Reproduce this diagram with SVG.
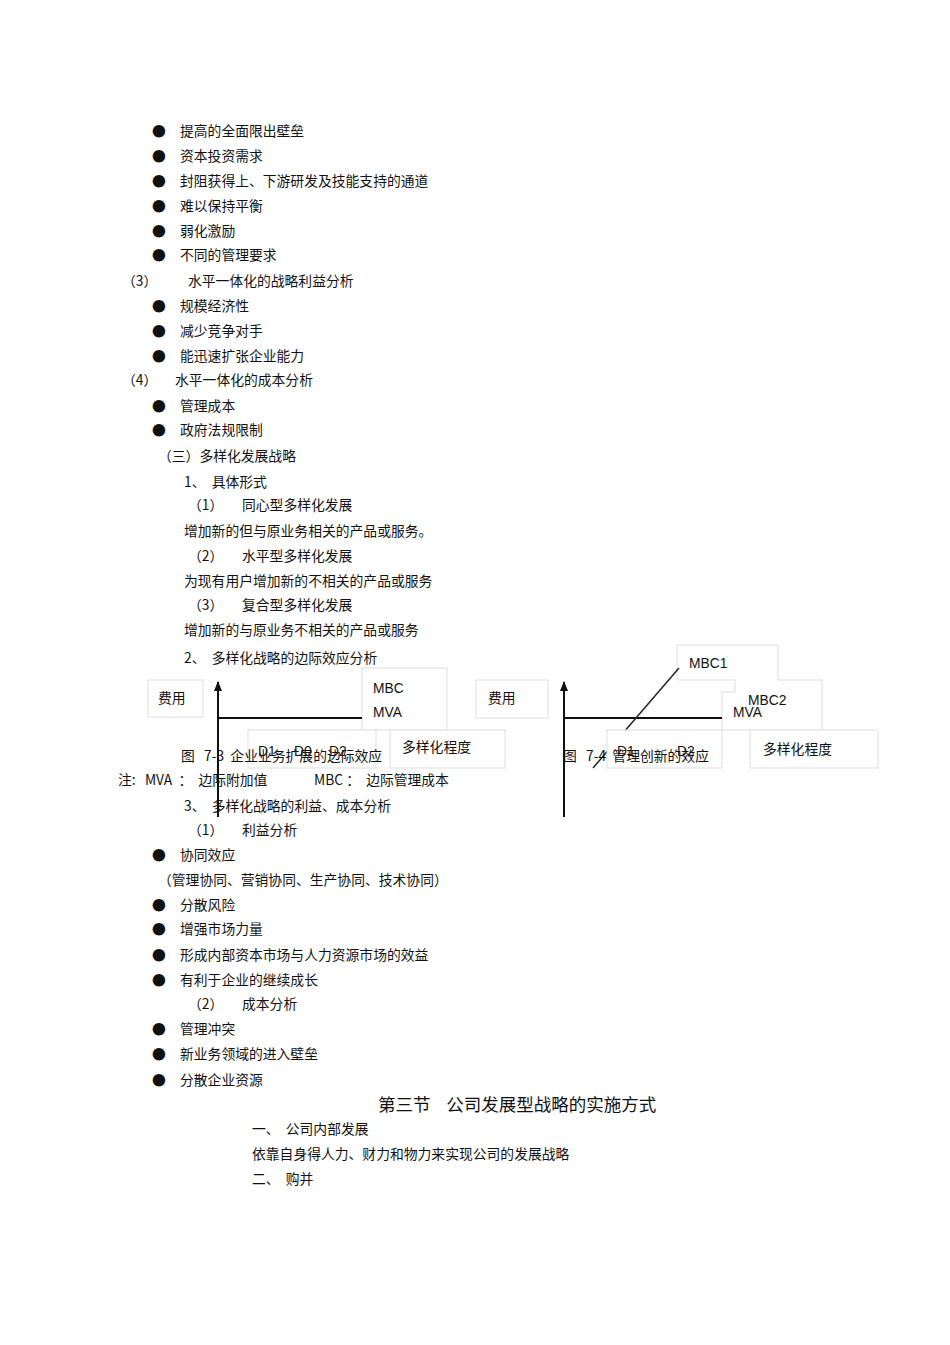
<svg xmlns="http://www.w3.org/2000/svg" width="950" height="1345" viewBox="0 0 950 1345">
<style>
text{font-family:"Noto Sans CJK SC","Liberation Sans",sans-serif;font-size:13.8px;fill:#111;white-space:pre}
.l{font-family:"Liberation Sans","Noto Sans CJK SC",sans-serif}
.b{fill:#fff;stroke:#ddd;stroke-width:1}
.ax{stroke:#111;stroke-width:2;fill:none}
</style>
<defs><marker id="ar" markerWidth="10" markerHeight="8" refX="9" refY="4" orient="auto" markerUnits="userSpaceOnUse"><path d="M0,0 L10,4 L0,8 Z" fill="#111"/></marker></defs>
<g id="text-top">
<text x="152" y="136">●</text><text x="180" y="136">提高的全面限出壁垒</text>
<text x="152" y="161">●</text><text x="180" y="161">资本投资需求</text>
<text x="152" y="186">●</text><text x="180" y="186">封阻获得上、下游研发及技能支持的通道</text>
<text x="152" y="211">●</text><text x="180" y="211">难以保持平衡</text>
<text x="152" y="236">●</text><text x="180" y="236">弱化激励</text>
<text x="152" y="260">●</text><text x="180" y="260">不同的管理要求</text>
<text x="122" y="286">（3）</text><text x="188" y="286">水平一体化的战略利益分析</text>
<text x="152" y="311">●</text><text x="180" y="311">规模经济性</text>
<text x="152" y="336">●</text><text x="180" y="336">减少竞争对手</text>
<text x="152" y="361">●</text><text x="180" y="361">能迅速扩张企业能力</text>
<text x="122" y="385">（4）</text><text x="175" y="385">水平一体化的成本分析</text>
<text x="152" y="411">●</text><text x="180" y="411">管理成本</text>
<text x="152" y="435">●</text><text x="180" y="435">政府法规限制</text>
<text x="158" y="461">（三）多样化发展战略</text>
<text x="184" y="487">1、  具体形式</text>
<text x="188" y="510">（1）</text><text x="242" y="510">同心型多样化发展</text>
<text x="184" y="536">增加新的但与原业务相关的产品或服务。</text>
<text x="188" y="561">（2）</text><text x="242" y="561">水平型多样化发展</text>
<text x="184" y="586">为现有用户增加新的不相关的产品或服务</text>
<text x="188" y="610">（3）</text><text x="242" y="610">复合型多样化发展</text>
<text x="184" y="635">增加新的与原业务不相关的产品或服务</text>
<text x="184" y="663">2、  多样化战略的边际效应分析</text>
</g>
<g id="chart1">
<rect class="b" x="148" y="680" width="55" height="37"/>
<rect class="b" x="362" y="668" width="85" height="62"/>
<rect class="b" x="248" y="730" width="128" height="38"/>
<rect class="b" x="390" y="730" width="115" height="38"/>
<text x="158" y="703">费用</text>
<text class="l" x="373" y="693">MBC</text>
<text class="l" x="373" y="717">MVA</text>
<text class="l" x="402" y="752">多样化程度</text>
<text class="l" x="258" y="756">D1</text><text class="l" x="294" y="756">D0</text><text class="l" x="329" y="756">D2</text>
</g>
<g id="chart2">
<rect class="b" x="476" y="680" width="72" height="38"/>
<path class="b" d="M677,645 H778 V680 H822 V730 H722 V692 H735 V680 H677 Z"/>
<rect class="b" x="750" y="730" width="128" height="38"/>
<text x="488" y="703">费用</text>
<text class="l" x="689" y="668">MBC1</text>
<text class="l" x="748" y="705">MBC2</text>
<text class="l" x="733" y="717">MVA</text>
<text class="l" x="763" y="754">多样化程度</text>
</g>
<g id="connectors">
<line class="ax" x1="218" y1="817" x2="218" y2="682" marker-end="url(#ar)"/>
<line class="ax" x1="218" y1="718" x2="362" y2="718"/>
<line class="ax" x1="564" y1="817" x2="564" y2="682" marker-end="url(#ar)"/>
<line class="ax" x1="564" y1="718" x2="722" y2="718"/>
<line x1="679" y1="668" x2="593" y2="768" stroke="#222" stroke-width="1.5"/>
</g>
<g id="chart2-front">
<rect class="b" x="607" y="730" width="115" height="38"/>
<text class="l" x="617" y="756">D1</text><text class="l" x="677" y="756">D2</text>
</g>
<g id="text-bottom">
<text x="181" y="761">图   7-3  企业业务扩展的边际效应</text>
<text x="563" y="761">图   7-4  管理创新的效应</text>
<text x="118" y="785">注:   MVA  ：  边际附加值</text><text x="314" y="785">MBC ：  边际管理成本</text>
<text x="184" y="811">3、  多样化战略的利益、成本分析</text>
<text x="188" y="835">（1）</text><text x="242" y="835">利益分析</text>
<text x="152" y="860">●</text><text x="180" y="860">协同效应</text>
<text x="158" y="885">（管理协同、营销协同、生产协同、技术协同）</text>
<text x="152" y="910">●</text><text x="180" y="910">分散风险</text>
<text x="152" y="934">●</text><text x="180" y="934">增强市场力量</text>
<text x="152" y="960">●</text><text x="180" y="960">形成内部资本市场与人力资源市场的效益</text>
<text x="152" y="985">●</text><text x="180" y="985">有利于企业的继续成长</text>
<text x="188" y="1009">（2）</text><text x="242" y="1009">成本分析</text>
<text x="152" y="1034">●</text><text x="180" y="1034">管理冲突</text>
<text x="152" y="1059">●</text><text x="180" y="1059">新业务领域的进入壁垒</text>
<text x="152" y="1085">●</text><text x="180" y="1085">分散企业资源</text>
<text x="378" y="1111" style="font-size:17.5px">第三节    公司发展型战略的实施方式</text>
<text x="252" y="1134">一、  公司内部发展</text>
<text x="252" y="1159">依靠自身得人力、财力和物力来实现公司的发展战略</text>
<text x="252" y="1184">二、  购并</text>
</g>
</svg>
